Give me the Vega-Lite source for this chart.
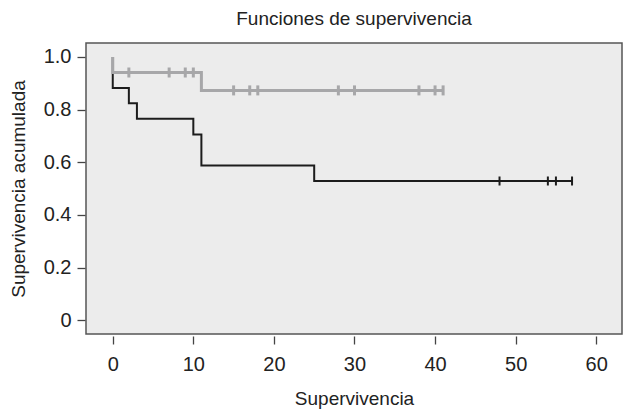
{
  "$schema": "https://vega.github.io/schema/vega-lite/v6.json",
  "autosize": {"type": "none"},
  "width": 536,
  "height": 291,
  "padding": {"left": 86, "top": 43, "right": 2, "bottom": 78},
  "background": "white",
  "title": {
    "text": "Funciones de supervivencia",
    "font": "Liberation Sans",
    "fontSize": 19,
    "fontWeight": "normal",
    "color": "#222222",
    "anchor": "middle",
    "baseline": "alphabetic",
    "offset": -1
  },
  "config": {
    "view": {"fill": "#ECECEC", "stroke": "#555555", "strokeWidth": 1.5},
    "axis": {
      "labelFont": "Liberation Sans",
      "titleFont": "Liberation Sans",
      "labelFontSize": 20,
      "titleFontSize": 19,
      "titleFontWeight": "normal",
      "labelColor": "#222222",
      "titleColor": "#222222",
      "tickColor": "#444444",
      "tickWidth": 1.3,
      "tickSize": 8,
      "domain": false,
      "grid": false
    }
  },
  "datasets": {
    "curvas": [
      {"grupo": "B", "i": 0, "t": 0, "s": 1.0},
      {"grupo": "B", "i": 1, "t": 0, "s": 0.882},
      {"grupo": "B", "i": 2, "t": 2, "s": 0.824},
      {"grupo": "B", "i": 3, "t": 3, "s": 0.765},
      {"grupo": "B", "i": 4, "t": 10, "s": 0.706},
      {"grupo": "B", "i": 5, "t": 11, "s": 0.588},
      {"grupo": "B", "i": 6, "t": 25, "s": 0.529},
      {"grupo": "B", "i": 7, "t": 57, "s": 0.529},
      {"grupo": "A", "i": 0, "t": 0, "s": 1.0},
      {"grupo": "A", "i": 1, "t": 0, "s": 0.941},
      {"grupo": "A", "i": 2, "t": 11, "s": 0.873},
      {"grupo": "A", "i": 3, "t": 41, "s": 0.873}
    ],
    "censuras": [
      {"grupo": "B", "t": 48, "s": 0.529},
      {"grupo": "B", "t": 54, "s": 0.529},
      {"grupo": "B", "t": 55, "s": 0.529},
      {"grupo": "B", "t": 57, "s": 0.529},
      {"grupo": "A", "t": 2, "s": 0.941},
      {"grupo": "A", "t": 7, "s": 0.941},
      {"grupo": "A", "t": 9, "s": 0.941},
      {"grupo": "A", "t": 10, "s": 0.941},
      {"grupo": "A", "t": 15, "s": 0.873},
      {"grupo": "A", "t": 17, "s": 0.873},
      {"grupo": "A", "t": 18, "s": 0.873},
      {"grupo": "A", "t": 28, "s": 0.873},
      {"grupo": "A", "t": 30, "s": 0.873},
      {"grupo": "A", "t": 38, "s": 0.873},
      {"grupo": "A", "t": 40, "s": 0.873},
      {"grupo": "A", "t": 41, "s": 0.873}
    ]
  },
  "encoding": {
    "x": {
      "field": "t",
      "type": "quantitative",
      "scale": {"domain": [-3.32, 63.2], "nice": false, "zero": false},
      "axis": {
        "title": "Supervivencia",
        "values": [0, 10, 20, 30, 40, 50, 60],
        "offset": 2,
        "labelPadding": 10,
        "titlePadding": 15
      }
    },
    "y": {
      "field": "s",
      "type": "quantitative",
      "scale": {"domain": [-0.052, 1.053], "nice": false, "zero": false},
      "axis": {
        "title": "Supervivencia acumulada",
        "values": [0, 0.2, 0.4, 0.6, 0.8, 1.0],
        "labelExpr": "datum.value == 0 ? '0' : format(datum.value, '.1f')",
        "offset": 1,
        "labelPadding": 6,
        "titlePadding": 15
      }
    }
  },
  "layer": [
    {
      "data": {"name": "curvas"},
      "transform": [{"filter": "datum.grupo == 'B'"}],
      "mark": {"type": "line", "interpolate": "step-after", "color": "#1c1c1c", "strokeWidth": 2},
      "encoding": {"order": {"field": "i", "type": "quantitative"}}
    },
    {
      "data": {"name": "censuras"},
      "transform": [{"filter": "datum.grupo == 'B'"}],
      "mark": {"type": "tick", "orient": "vertical", "color": "#1c1c1c", "size": 9, "thickness": 2, "opacity": 1}
    },
    {
      "data": {"name": "curvas"},
      "transform": [{"filter": "datum.grupo == 'A'"}],
      "mark": {"type": "line", "interpolate": "step-after", "color": "#A7A7A9", "strokeWidth": 3},
      "encoding": {"order": {"field": "i", "type": "quantitative"}}
    },
    {
      "data": {"name": "censuras"},
      "transform": [{"filter": "datum.grupo == 'A'"}],
      "mark": {"type": "tick", "orient": "vertical", "color": "#A7A7A9", "size": 10, "thickness": 3, "opacity": 1}
    }
  ]
}
